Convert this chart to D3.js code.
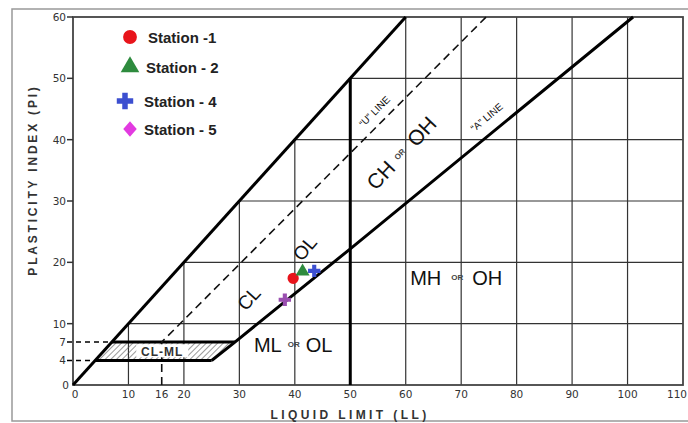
<!DOCTYPE html>
<html>
<head>
<meta charset="utf-8">
<script src="https://cdn.jsdelivr.net/npm/d3@7"></script>
<style>
  body { margin: 0; background: #fff; }
  svg { display: block; font-family: "Liberation Sans", Arial, sans-serif; }
</style>
</head>
<body>
<svg id="chart" width="688" height="423"></svg>
<script>
// data
var xTicks = [0, 10, 16, 20, 30, 40, 50, 60, 70, 80, 90, 100, 110];
var yTicks = [0, 4, 7, 10, 20, 30, 40, 50, 60];
var gridX = [10, 20, 30, 40, 60, 70, 80, 90, 100];
var gridY = [10, 20, 30, 40, 50];

var stations = ["Station -1", "Station - 2", "Station - 4", "Station - 5"];
var stationLL = [39.7, 41.4, 43.5, 38.2];
var stationPI = [17.4, 18.5, 18.6, 13.9];

// boundary lines (LL, PI)
var upperLine = [[0, 0], [60, 60]];
var aLine = [[25, 4], [29.2, 7], [50, 22.2], [101, 60]];
var uLine = [[16, 0], [16, 7], [74.5, 60]];
var llFifty = [[50, 0], [50, 50]];
var clmlZone = [[4, 4], [25, 4], [29.2, 7], [7, 7]];

var svg = d3.select("#chart");

var x = d3.scaleLinear().domain([0, 110]).range([73, 683]);
var y = d3.scaleLinear().domain([0, 60]).range([385, 17]);
var line = d3.line().x(function(d) { return x(d[0]); }).y(function(d) { return y(d[1]); });

// outer frame
svg.append("rect")
    .attr("x", 12).attr("y", 9).attr("width", 700).attr("height", 412)
    .attr("fill", "none").attr("stroke", "#999").attr("stroke-width", 1.5);

// hatch pattern
var defs = svg.append("defs");
var pat = defs.append("pattern")
    .attr("id", "hatch").attr("patternUnits", "userSpaceOnUse")
    .attr("width", 4).attr("height", 4)
    .attr("patternTransform", "rotate(45)");
pat.append("line").attr("x1", 0).attr("y1", 0).attr("x2", 0).attr("y2", 4)
    .attr("stroke", "#555").attr("stroke-width", 1.2);

// grid (only below the PI = LL line)
svg.append("g").selectAll("line").data(gridX).enter().append("line")
    .attr("x1", function(d) { return x(d); })
    .attr("x2", function(d) { return x(d); })
    .attr("y1", y(0))
    .attr("y2", function(d) { return y(Math.min(d, 60)); })
    .attr("stroke", "#333").attr("stroke-width", 1.2);

svg.append("g").selectAll("line").data(gridY).enter().append("line")
    .attr("x1", function(d) { return x(d); })
    .attr("x2", x(110))
    .attr("y1", function(d) { return y(d); })
    .attr("y2", function(d) { return y(d); })
    .attr("stroke", "#333").attr("stroke-width", 1.2);

// plot frame
svg.append("rect")
    .attr("x", x(0)).attr("y", y(60))
    .attr("width", x(110) - x(0)).attr("height", y(0) - y(60))
    .attr("fill", "none").attr("stroke", "#444").attr("stroke-width", 1.8);

// CL-ML zone
svg.append("path").datum(clmlZone)
    .attr("d", function(d) { return line(d) + "Z"; })
    .attr("fill", "url(#hatch)").attr("stroke", "none");
svg.append("line")
    .attr("x1", x(4)).attr("x2", x(25)).attr("y1", y(4)).attr("y2", y(4))
    .attr("stroke", "#000").attr("stroke-width", 3);
svg.append("line")
    .attr("x1", x(7)).attr("x2", x(29.2)).attr("y1", y(7)).attr("y2", y(7))
    .attr("stroke", "#000").attr("stroke-width", 3);

// dashed guides at PI 4 and 7
[[4, 4], [7, 7]].forEach(function(p) {
  svg.append("line")
      .attr("x1", x(0) - 6).attr("x2", x(p[0])).attr("y1", y(p[1])).attr("y2", y(p[1]))
      .attr("stroke", "#000").attr("stroke-width", 1.5)
      .attr("stroke-dasharray", "5,4");
});

// U-line
svg.append("path").datum(uLine)
    .attr("d", line).attr("fill", "none")
    .attr("stroke", "#111").attr("stroke-width", 1.6)
    .attr("stroke-dasharray", "8,5");

// thick lines
[upperLine, aLine, llFifty].forEach(function(l) {
  svg.append("path").datum(l)
      .attr("d", line).attr("fill", "none")
      .attr("stroke", "#000").attr("stroke-width", 3);
});

// CL-ML label
svg.append("rect")
    .attr("x", x(16.1) - 26).attr("y", y(5.5) - 7)
    .attr("width", 52).attr("height", 13).attr("fill", "#fff");
svg.append("text")
    .attr("x", x(16.1)).attr("y", y(5.5) + 4.5)
    .attr("text-anchor", "middle")
    .attr("font-size", 12).attr("font-weight", "bold").attr("fill", "#333")
    .attr("letter-spacing", 1)
    .text("CL-ML");

// y ticks
svg.append("g").selectAll("line").data(gridY.concat([60])).enter().append("line")
    .attr("x1", x(0) - 6).attr("x2", x(0))
    .attr("y1", function(d) { return y(d); })
    .attr("y2", function(d) { return y(d); })
    .attr("stroke", "#333").attr("stroke-width", 1.5);

svg.append("g").selectAll("text").data(yTicks).enter().append("text")
    .attr("x", function(d) { return d === 0 ? x(0) - 4 : x(0) - 7; })
    .attr("y", function(d) { return y(d) + 4; })
    .attr("text-anchor", "end")
    .attr("font-family", "DejaVu Sans, sans-serif")
    .attr("font-size", 10.5).attr("fill", "#333")
    .text(function(d) { return d; });

// x ticks
svg.append("g").selectAll("text").data(xTicks).enter().append("text")
    .attr("x", function(d) { return d === 0 ? x(0) + 2 : (d === 110 ? 687 : x(d)); })
    .attr("y", 398)
    .attr("text-anchor", function(d) { return d === 110 ? "end" : "middle"; })
    .attr("font-family", "DejaVu Sans, sans-serif")
    .attr("font-size", 10.5).attr("fill", "#333")
    .text(function(d) { return d; });

// axis titles
svg.append("text")
    .attr("x", 350).attr("y", 419)
    .attr("text-anchor", "middle")
    .attr("font-size", 12).attr("font-weight", "bold").attr("fill", "#333")
    .attr("letter-spacing", 3.4)
    .text("LIQUID LIMIT (LL)");

svg.append("text")
    .attr("transform", "translate(37,180) rotate(-90)")
    .attr("text-anchor", "middle")
    .attr("font-size", 12).attr("font-weight", "bold").attr("fill", "#333")
    .attr("letter-spacing", 2.8)
    .text("PLASTICITY INDEX (PI)");

// zone labels: parts are [text, size, dx, dy]
function zoneLabel(ll, pi, angle, parts) {
  var t = svg.append("text")
      .attr("transform", "translate(" + x(ll) + "," + y(pi) + ") rotate(" + angle + ")")
      .attr("text-anchor", "middle")
      .attr("fill", "#111");
  parts.forEach(function(p) {
    var s = t.append("tspan").attr("font-size", p[1]).text(p[0]);
    if (p[2]) s.attr("dx", p[2]);
    if (p[3]) s.attr("dy", p[3]);
    if (p[1] < 10) s.attr("font-weight", "bold").attr("fill", "#444");
  });
  return t;
}
zoneLabel(32.6, 13.4, -48, [["CL", 19]]);
zoneLabel(42.7, 21.6, -50, [["OL", 19]]);
zoneLabel(60.2, 37, -47, [["CH", 21], ["OR", 8, 7, -5], ["OH", 21, 10, 5]]);
zoneLabel(69.1, 16.3, 0, [["MH", 20], ["OR", 8, 10, -5], ["OH", 20, 9, 5]]);
zoneLabel(39.7, 5.4, 0, [["ML", 20], ["OR", 8, 6, -5], ["OL", 20, 6, 5]]);
zoneLabel(54.8, 44.2, -45, [["\u201CU\u201D LINE", 10]]);
zoneLabel(75, 43.2, -40, [["\u201CA\u201D LINE", 10]]);

// station points
var colors = ["#e8141b", "#2e8b3e", "#3c4fd0", "#9a4fb0"];
var legendColors = ["#e8141b", "#2e8b3e", "#3c4fd0", "#e23ae0"];
var shapes = [d3.symbolCircle, d3.symbolTriangle, d3.symbolCross, d3.symbolCross];

svg.append("g").selectAll("path").data(stations).enter().append("path")
    .attr("transform", function(d, i) { return "translate(" + x(stationLL[i]) + "," + y(stationPI[i]) + ")"; })
    .attr("d", function(d, i) { return d3.symbol().type(shapes[i]).size(i === 0 ? 100 : 85)(); })
    .attr("fill", function(d, i) { return colors[i]; });

// legend
var legendShapes = [d3.symbolCircle, d3.symbolTriangle, d3.symbolCross, d3.symbolDiamond];
var legendY = [37, 67, 101, 129];
var legendMarkX = [130, 130, 125, 130];
var legendTextX = [148, 146, 144, 144];
var leg = svg.append("g");
leg.selectAll("path").data(stations).enter().append("path")
    .attr("transform", function(d, i) {
      var s = i === 3 ? " scale(1.5,1)" : "";
      return "translate(" + legendMarkX[i] + "," + legendY[i] + ")" + s;
    })
    .attr("d", function(d, i) { return d3.symbol().type(legendShapes[i]).size(i === 3 ? 70 : 150)(); })
    .attr("fill", function(d, i) { return legendColors[i]; });
leg.selectAll("text").data(stations).enter().append("text")
    .attr("x", function(d, i) { return legendTextX[i]; })
    .attr("y", function(d, i) { return legendY[i] + 6; })
    .attr("font-size", 15).attr("font-weight", "bold").attr("fill", "#222")
    .text(function(d) { return d; });
</script>
</body>
</html>
